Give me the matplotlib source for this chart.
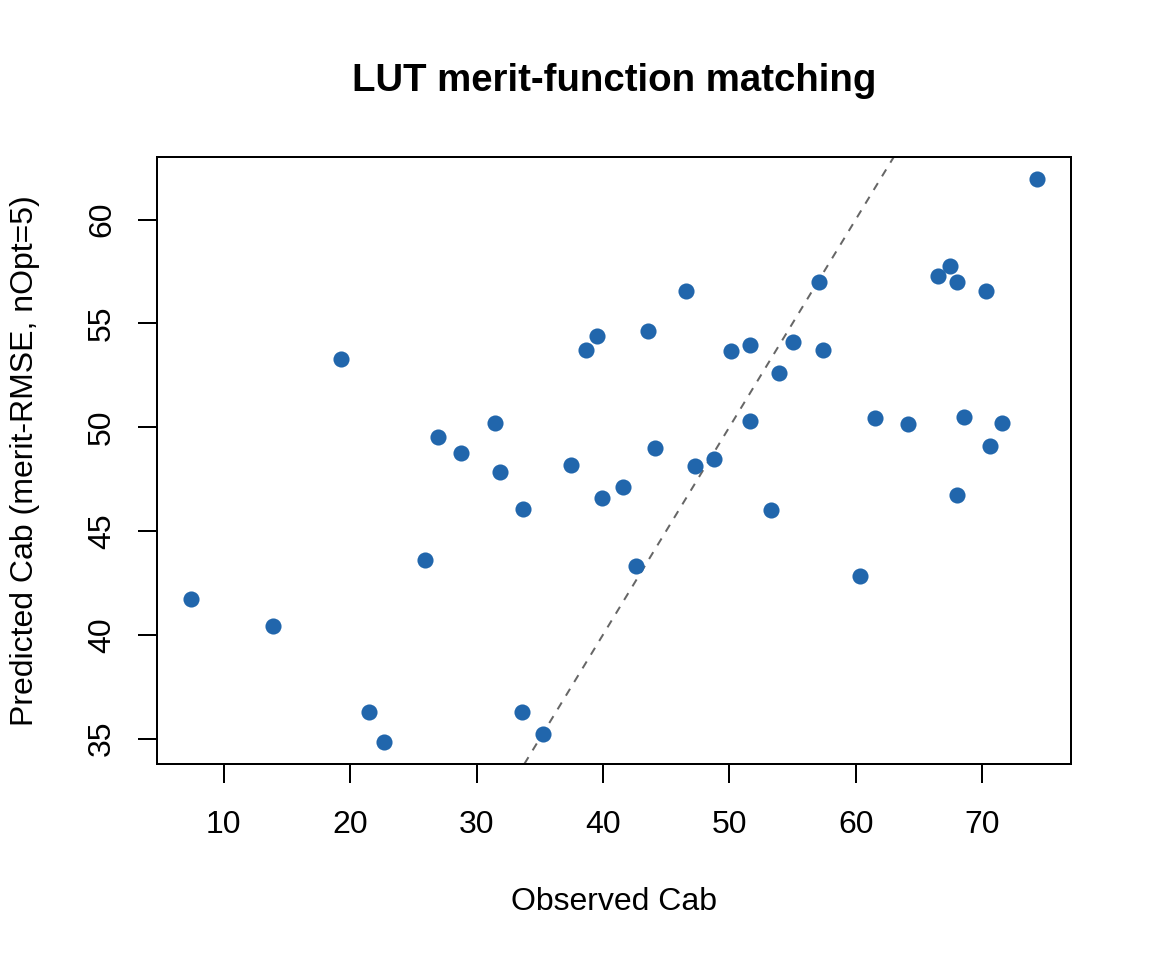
import numpy as np
import matplotlib
matplotlib.use("Agg")
import matplotlib.pyplot as plt

# observed vs predicted Cab
observed = [7.39, 13.88, 19.26, 21.48, 22.67, 25.91, 26.94, 28.76, 31.45, 31.85,
            33.67, 33.59, 35.25, 37.47, 38.66, 39.53, 39.92, 41.58, 42.61, 43.56,
            44.12, 46.57, 47.28, 48.79, 50.13, 51.64, 51.64, 53.30, 53.93, 55.04,
            57.10, 57.42, 60.35, 61.53, 64.14, 66.52, 67.47, 68.02, 68.02, 68.58,
            70.32, 70.63, 71.58, 74.36]
predicted = [41.74, 40.44, 53.26, 36.30, 34.86, 43.62, 49.55, 48.78, 50.22, 47.86,
             46.08, 36.30, 35.24, 48.20, 53.74, 54.41, 46.61, 47.14, 43.29, 54.61,
             49.02, 56.58, 48.15, 48.49, 53.69, 53.98, 50.32, 46.03, 52.63, 54.12,
             56.97, 53.74, 42.85, 50.46, 50.17, 57.30, 57.78, 56.97, 46.71, 50.51,
             56.58, 49.07, 50.22, 61.93]

x_ticks = [10, 20, 30, 40, 50, 60, 70]
y_ticks = [35, 40, 45, 50, 55, 60]

POINT_COL = "#2166AC"
LINE_COL = "#666666"

plt.rcParams["font.family"] = ["Liberation Sans", "DejaVu Sans"]

W, H = 1152, 960
fig = plt.figure(figsize=(W / 100, H / 100), dpi=100)
# R default margins mar = c(5.1, 4.1, 4.1, 2.1) at 192 dpi
l, r, t, b = 157, 1071, 157, 764
ax = fig.add_axes([l / W, 1 - b / H, (r - l) / W, (b - t) / H])


def r_lim(v):
    lo, hi = min(v), max(v)
    pad = 0.04 * (hi - lo)
    return lo - pad, hi + pad


ax.set_xlim(*r_lim(observed))
ax.set_ylim(*r_lim(predicted))

ax.axline((0, 0), slope=1, color=LINE_COL, lw=1.44, dashes=(4, 4), zorder=2)
ax.plot(observed, predicted, "o", ms=11.6, mew=0, color=POINT_COL, zorder=3)

for s in ax.spines.values():
    s.set_linewidth(1.44)
    s.set_color("black")

ax.set_xticks(x_ticks)
ax.set_xticklabels([str(v) for v in x_ticks])
ax.set_yticks(y_ticks)
ax.set_yticklabels([str(v) for v in y_ticks], rotation=90, va="center")
ax.tick_params(axis="both", direction="out", length=13.8, width=1.44,
               labelsize=23, colors="black")
ax.tick_params(axis="x", pad=19)
ax.tick_params(axis="y", pad=15)

ax.set_xlabel("Observed Cab", fontsize=23, labelpad=34)
ax.set_ylabel("Predicted Cab (merit-RMSE, nOpt=5)", fontsize=23, labelpad=34)

fig.text(614 / W, 1 - 91 / H, "LUT merit-function matching",
         ha="center", va="baseline", fontsize=27.6, fontweight="bold")

fig.savefig("out.png", dpi=100, facecolor="white")
